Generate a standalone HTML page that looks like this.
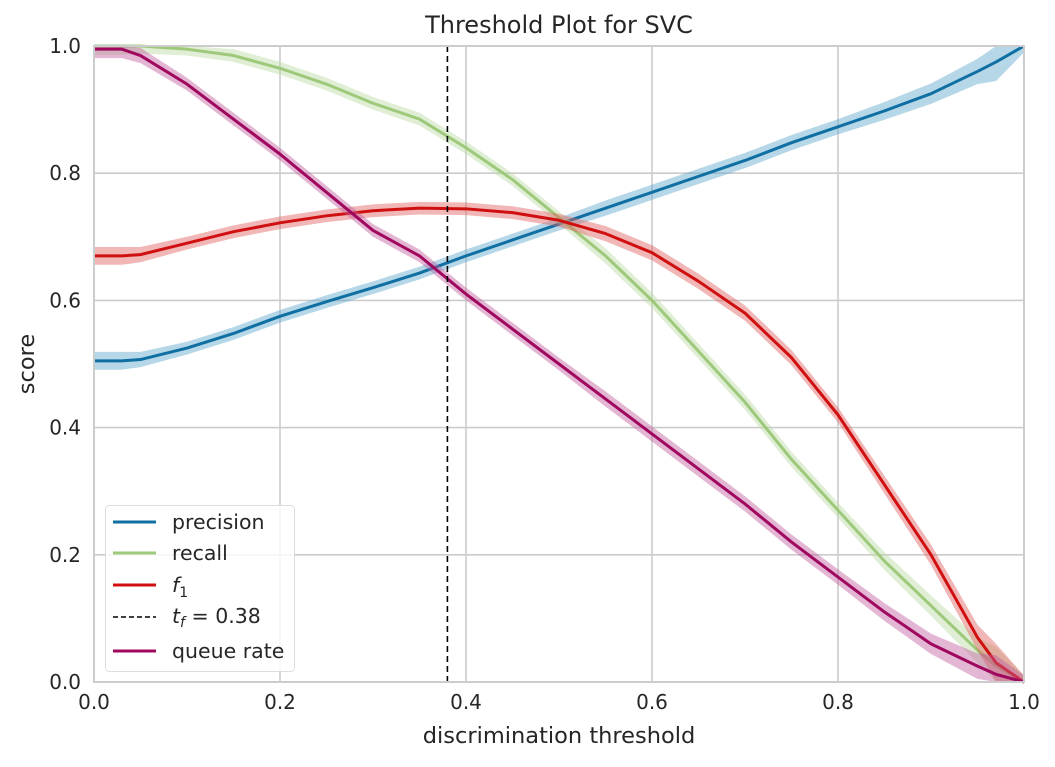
<!DOCTYPE html>
<html><head><meta charset="utf-8"><style>
body{margin:0;background:#fff;}
svg text{font-family:"DejaVu Sans","Liberation Sans",sans-serif;fill:#262626;}
</style></head><body>
<svg id="chart" width="1055" height="762" xmlns="http://www.w3.org/2000/svg">
<rect x="0" y="0" width="1055" height="762" fill="#fff"/>
<g id="grid"></g>
<g id="series"></g>
<rect x="94" y="46" width="930" height="636" fill="none" stroke="#cccccc" stroke-width="2"/>
<g id="ticks"></g>
<text x="559" y="33" font-size="24" text-anchor="middle">Threshold Plot for SVC</text>
<text x="559" y="743" font-size="22.5" text-anchor="middle">discrimination threshold</text>
<text x="34" y="364" font-size="22.5" text-anchor="middle" transform="rotate(-90 34 364)">score</text>
<g>
<rect x="105.5" y="505.5" width="189" height="166" rx="4" fill="#fff" fill-opacity="0.8" stroke="#dddddd"/>
<g><line x1="113" y1="522" x2="156" y2="522" stroke="#0f6fa3" stroke-width="3"/><text x="172" y="529" font-size="20.5">precision</text></g>
<g><line x1="113" y1="553" x2="156" y2="553" stroke="#9ec97a" stroke-width="3"/><text x="172" y="560" font-size="20.5">recall</text></g>
<g><line x1="113" y1="585" x2="156" y2="585" stroke="#d01010" stroke-width="3"/><text x="172" y="592" font-size="20.5" font-style="italic">f<tspan font-size="14" font-style="normal" dy="5">1</tspan></text></g>
<g><line x1="113" y1="617" x2="156" y2="617" stroke="#000" stroke-width="1.5" stroke-dasharray="5,3"/><text x="172" y="623" font-size="20.5"><tspan font-style="italic">t</tspan><tspan font-size="14" font-style="italic" dy="4">f</tspan><tspan dy="-4"> = 0.38</tspan></text></g>
<g><line x1="113" y1="651" x2="156" y2="651" stroke="#a0085f" stroke-width="3"/><text x="172" y="658" font-size="20.5">queue rate</text></g>
</g>
</svg>
<script>
const thresholds=[0,0.03,0.05,0.1,0.15,0.2,0.25,0.3,0.35,0.4,0.45,0.5,0.55,0.6,0.65,0.7,0.75,0.8,0.85,0.9,0.95,0.97,1.0];
const precision=[0.505,0.505,0.507,0.525,0.548,0.575,0.598,0.62,0.643,0.67,0.695,0.72,0.745,0.77,0.795,0.82,0.848,0.873,0.898,0.925,0.96,0.975,1.0];
const recall=[1.0,1.0,1.0,0.995,0.985,0.965,0.94,0.91,0.885,0.84,0.79,0.73,0.67,0.6,0.52,0.44,0.35,0.27,0.19,0.12,0.05,0.025,0.0];
const f1=[0.67,0.67,0.672,0.69,0.708,0.722,0.733,0.741,0.745,0.744,0.738,0.726,0.705,0.675,0.63,0.58,0.51,0.42,0.31,0.2,0.07,0.03,0.0];
const queueRate=[0.995,0.995,0.985,0.94,0.885,0.83,0.77,0.71,0.67,0.61,0.555,0.5,0.445,0.39,0.335,0.28,0.22,0.165,0.11,0.06,0.025,0.012,0.0];
const bandWidth=[0.014,0.014,0.012,0.01,0.01,0.01,0.01,0.01,0.01,0.01,0.01,0.01,0.012,0.012,0.012,0.012,0.012,0.012,0.014,0.016,0.02,0.03,0.01];
const ticks=[0,0.2,0.4,0.6,0.8,1.0];
const tickLabels=["0.0","0.2","0.4","0.6","0.8","1.0"];
const cutoff=0.38;
const NS="http://www.w3.org/2000/svg";
const X=v=>94+v*930, Y=v=>682-v*636;
const grid=document.getElementById('grid'),tk=document.getElementById('ticks'),ser=document.getElementById('series');
function mk(tag,attrs,parent){const e=document.createElementNS(NS,tag);for(const k in attrs)e.setAttribute(k,attrs[k]);parent.appendChild(e);return e;}
ticks.forEach((t,i)=>{
  const gx=mk('line',{x1:X(t),x2:X(t),y1:46,y2:682,stroke:'#cccccc','stroke-width':1.6},grid);
  
  
  const gy=mk('line',{x1:94,x2:1024,y1:Y(t),y2:Y(t),stroke:'#cccccc','stroke-width':1.6},grid);
  
  
  const tx=mk('text',{x:X(t),y:709,'font-size':20,'text-anchor':'middle'},tk);tx.textContent=tickLabels[i];
  
  
  const ty=mk('text',{x:81,y:Y(t)+7,'font-size':20,'text-anchor':'end'},tk);ty.textContent=tickLabels[i];
  
  
});
function draw(vals,color,band,name){
  let up='',lo='';
  thresholds.forEach((t,i)=>{up+=(i?'L':'M')+X(t)+','+Y(Math.min(1,vals[i]+bandWidth[i]));});
  for(let i=thresholds.length-1;i>=0;i--)lo+='L'+X(thresholds[i])+','+Y(Math.max(0,vals[i]-bandWidth[i]));
  const b=mk('path',{d:up+lo+'Z',fill:band,'fill-opacity':0.45},ser);
  
  
  const pts=thresholds.map((t,i)=>X(t)+','+Y(vals[i])).join(' ');
  const l=mk('polyline',{points:pts,fill:'none',stroke:color,'stroke-width':3,'stroke-linejoin':'round'},ser);
  
  
}
draw(precision,'#0f6fa3','#5aa7cc','precision');
draw(recall,'#9ec97a','#b9d9a0','recall');
draw(f1,'#d01010','#e06060','f1');
draw(queueRate,'#a0085f','#c060a0','queue-rate');
const cl=mk('line',{x1:X(cutoff),x2:X(cutoff),y1:46,y2:682,stroke:'#000','stroke-width':1.6,'stroke-dasharray':'6,4'},ser);


</script>
</body></html>
